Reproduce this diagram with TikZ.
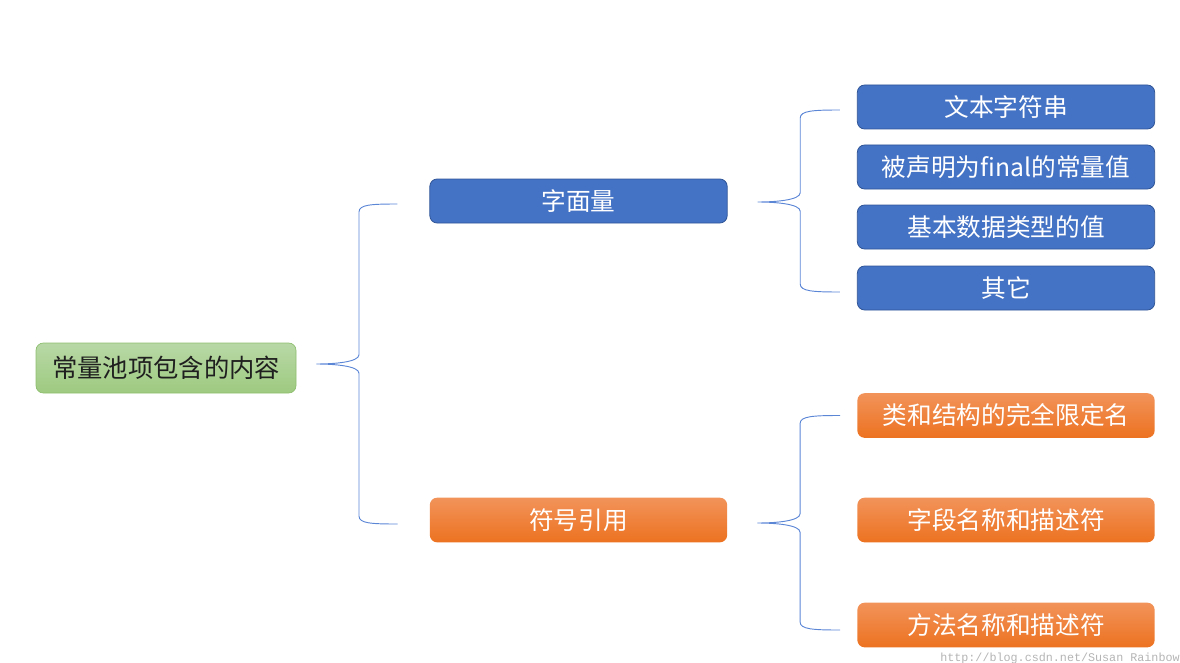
\documentclass[tikz,border=0pt]{standalone}
\usepackage{fontspec}
\newfontfamily\cjk{Noto Sans CJK SC}
\newfontfamily\wmfont{Liberation Mono}
\usetikzlibrary{calc}
\definecolor{boxblue}{HTML}{4472C4}
\definecolor{boxblueedge}{HTML}{2F5597}
\definecolor{linkblue}{HTML}{5B86D6}
\definecolor{orangetop}{HTML}{F2935A}
\definecolor{orangebot}{HTML}{EC7220}
\definecolor{greentop}{HTML}{B8D8A6}
\definecolor{greenbot}{HTML}{9ECA80}
\definecolor{greenedge}{HTML}{8DBE6E}
\definecolor{wmgray}{HTML}{B4B4B4}
\tikzset{
  basebox/.style={rounded corners=5.5, inner sep=0pt, align=center,
    font=\cjk\fontsize{18.5}{20}\selectfont},
  rootbox/.style={basebox, minimum width=195pt, minimum height=37.5pt,
    top color=greentop, bottom color=greenbot, draw=greenedge, line width=0.5pt,
    text=black!88, font=\cjk\fontsize{19}{20}\selectfont},
  bluebox/.style={basebox, minimum width=223pt, minimum height=33pt,
    fill=boxblue, draw=boxblueedge, line width=0.6pt, text=white},
  orangebox/.style={basebox, minimum width=223pt, minimum height=33.5pt,
    top color=orangetop, bottom color=orangebot, draw=none, text=white},
  bracestyle/.style={draw=linkblue, line width=0.7pt},
}
\newcommand{\bracelink}[3]{%
  \path[bracestyle] let \p1=(#1), \p2=(#2), \p3=(#3), \n1={\x1+32pt} in
    (\x2,\y2) .. controls (\x2-20pt,\y2) and (\n1,\y2-0.5pt) .. (\n1,\y2-6pt)
    -- (\n1,\y1+7pt) .. controls (\n1,\y1+1.5pt) and (\x1+14pt,\y1) .. (\x1,\y1)
    .. controls (\x1+14pt,\y1) and (\n1,\y1-1.5pt) .. (\n1,\y1-7pt)
    -- (\n1,\y3+6pt) .. controls (\n1,\y3+0.5pt) and (\x3-20pt,\y3) .. (\x3,\y3);
}
\begin{document}
\begin{tikzpicture}[x=0.75pt,y=-0.75pt]
\useasboundingbox (0,0) rectangle (1180,663);

\node[rootbox] (root) at (166,368) {常量池项包含的内容};
\node[bluebox] (lit) at (578.5,201) {字面量};
\node[orangebox] (sym) at (578.5,520) {符号引用};

\node[bluebox] (r1) at (1006,107) {文本字符串};
\node[bluebox] (r2) at (1006,167) {被声明为final的常量值};
\node[bluebox] (r3) at (1006,227) {基本数据类型的值};
\node[bluebox] (r4) at (1006,288) {其它};

\node[orangebox] (o1) at (1006,415.5) {类和结构的完全限定名};
\node[orangebox] (o2) at (1006,520) {字段名称和描述符};
\node[orangebox] (o3) at (1006,625) {方法名称和描述符};

% brace connectors
\coordinate (t0) at ($(root.east)+(20,-4)$);
\coordinate (a0) at ($(lit.west)+(-32,3)$);
\coordinate (b0) at ($(sym.west)+(-32,4)$);
\bracelink{t0}{a0}{b0}

\coordinate (t1) at ($(lit.east)+(30,1)$);
\coordinate (a1) at ($(r1.west)+(-17,3)$);
\coordinate (b1) at ($(r4.west)+(-17,4)$);
\bracelink{t1}{a1}{b1}

\coordinate (t2) at ($(sym.east)+(30,3)$);
\coordinate (a2) at ($(o1.west)+(-17,0)$);
\coordinate (b2) at ($(o3.west)+(-17,5)$);
\bracelink{t2}{a2}{b2}

\node[font=\wmfont\fontsize{8.8}{9}\selectfont, text=wmgray, anchor=west, inner sep=0pt]
  (wm) at (940,658) {http://blog.csdn.net/Susan Rainbow};
\end{tikzpicture}
\end{document}
